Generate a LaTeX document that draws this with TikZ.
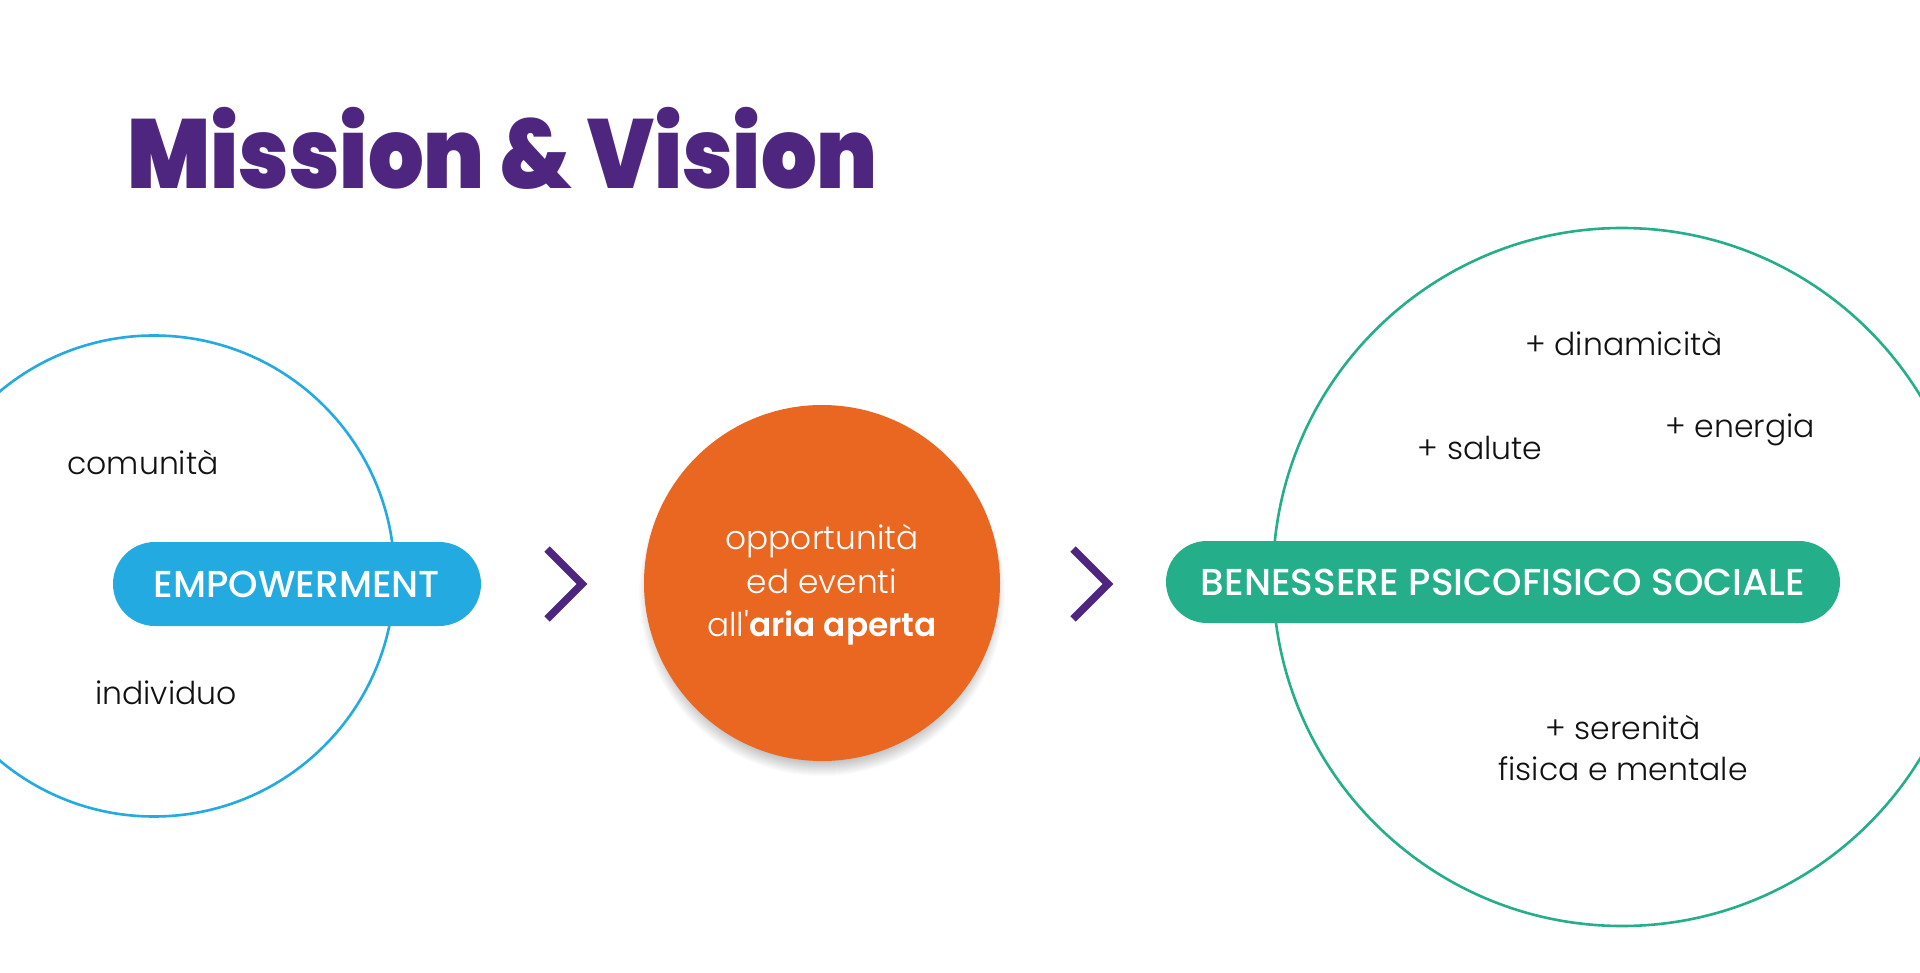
\documentclass[tikz,border=0pt]{standalone}
\usepackage{fontspec}
\setmainfont{Poppins}
\newfontfamily\titlefont{Poppins Black}
\newfontfamily\lightfont{Poppins Light}
\newfontfamily\medfont{Poppins Medium}
\newfontfamily\semifont{Poppins SemiBold}
\usetikzlibrary{shapes.misc}
\definecolor{purp}{HTML}{4E2680}
\definecolor{cyanc}{HTML}{22AAE1}
\definecolor{orng}{HTML}{EA6721}
\definecolor{grn}{HTML}{24AE8A}
\definecolor{txt}{HTML}{111111}
\tikzset{
  lbl/.style={text=txt, font=\lightfont\fontsize{31.5}{41}\selectfont, inner sep=0pt, align=center},
  pill/.style={rounded rectangle, inner sep=0pt, text=white, font=\medfont\fontsize{37.5}{40}\selectfont},
  ring/.style={circle, draw=#1, line width=2.6pt, inner sep=0pt},
  chev/.style={draw=purp, line width=7.5pt, miter limit=10, line join=miter},
  shadowlayer/.style={fill=black, fill opacity=0.017},
}
\begin{document}
\begin{tikzpicture}[x=1pt,y=-1pt]
\useasboundingbox (0,0) rectangle (1920,973);
\clip (0,0) rectangle (1920,973);
\fill[white] (0,0) rectangle (1920,973);

% title
\node[anchor=base west, inner sep=0pt, text=purp, font=\titlefont\fontsize{98}{98}\selectfont] (title) at (127,189) {\scalebox{0.893}[1]{Mission \& Vision}};

% left circle
\node[ring=cyanc, minimum size=481pt] (lcirc) at (154,576) {};
\node[lbl] (com) at (143,463) {comunità};
\node[lbl] (ind) at (166,693) {individuo};
\node[pill, fill=cyanc, minimum width=368pt, minimum height=84pt] (emp) at (297,584) {EMPOWERMENT};

% chevron 1
\coordinate (c1a) at (547,549);
\coordinate (c1b) at (582,584);
\coordinate (c1c) at (547,619);
\draw[chev] (c1a) -- (c1b) -- (c1c);

% orange circle with soft shadow
\coordinate (shc) at (822,593);
\foreach \r in {168,...,183} {\fill[shadowlayer] (shc) circle[radius=\r];}
\node[circle, fill=orng, minimum size=356pt, inner sep=0pt] (orc) at (822,583) {};
\node[text=white, align=center, inner sep=0pt, font=\lightfont\fontsize{32.8}{43.5}\selectfont] (ortxt) at (822,585)
  {opportunità\\ed eventi\\all'{\semifont aria aperta}};

% chevron 2
\coordinate (c2a) at (1073,549);
\coordinate (c2b) at (1108,584);
\coordinate (c2c) at (1073,619);
\draw[chev] (c2a) -- (c2b) -- (c2c);

% right circle
\node[ring=grn, minimum size=698pt] (rcirc) at (1622,577) {};
\node[pill, fill=grn, minimum width=674pt, minimum height=82pt] (ben) at (1503,582) {BENESSERE PSICOFISICO SOCIALE};
\node[lbl] (din) at (1624,343) {+ dinamicità};
\node[lbl] (ene) at (1740,430) {+ energia};
\node[lbl] (sal) at (1480,448) {+ salute};
\node[lbl] (ser) at (1623,748) {+ serenità\\fisica e mentale};
\end{tikzpicture}
\end{document}
